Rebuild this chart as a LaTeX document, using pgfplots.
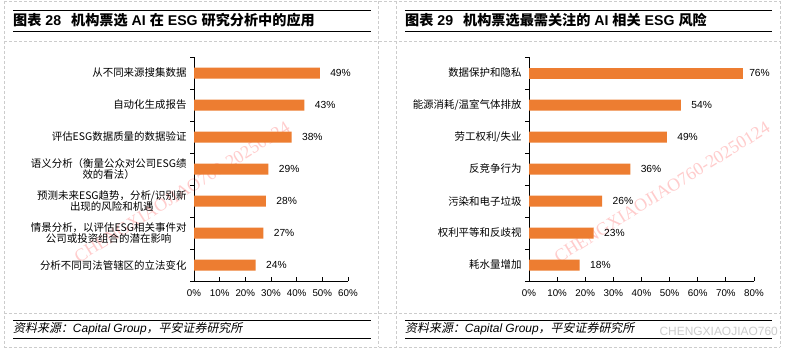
\documentclass[border=0pt]{standalone}
\usepackage{pgfplots}
\pgfplotsset{compat=1.18}
\usepackage{fontspec}
\setmainfont{Liberation Sans}
\newfontfamily\cjk{Noto Sans CJK SC}
\newfontfamily\cjkit[FakeSlant=0.2]{Noto Sans CJK SC}
\newfontfamily\wm{Liberation Serif}
\definecolor{barc}{HTML}{ED7D31}

\pgfplotsset{panel/.style={
  scale only axis, height=224bp,
  xbar, bar width=11bp, bar shift=0pt,
  xmin=0, ymin=-0.5, ymax=6.5,
  axis lines*=left,
  axis line style={line width=0.8bp, black},
  major tick length=4bp,
  every tick/.style={black, line width=0.8bp},
  ytick={-0.5,0.5,...,6.5}, yticklabels={,,,,,,,,},
  extra y ticks={0,1,...,6},
  extra y tick style={major tick length=0pt},
  yticklabel style={font=\cjk\fontsize{10.5}{11.5}\selectfont, align=center, xshift=-4bp, text=black},
  xticklabel={\pgfmathprintnumber{\tick}\%},
  xticklabel style={font=\fontsize{9.8}{11}\selectfont, yshift=-5bp},
  /pgf/number format/assume math mode=true,
  clip=false,
  nodes near coords={\pgfmathprintnumber{\pgfplotspointmeta}\%},
  point meta=x,
  every node near coord/.append style={font=\fontsize{10.3}{12}\selectfont, anchor=west, xshift=7bp, text=black},
  enlargelimits=false,
}}

\begin{document}
\begin{tikzpicture}
\useasboundingbox[fill=white] (0,0) rectangle (787bp,-349bp);
\begin{scope}[gray!40, line width=0.6bp, dash pattern=on 3bp off 2bp]
\draw (4bp,-1bp) -- (780bp,-1bp);
\draw (4bp,-41bp) -- (780bp,-41bp);
\draw (4bp,-313bp) -- (780bp,-313bp);
\draw (4bp,-347bp) -- (780bp,-347bp);
\draw (4bp,-1bp) -- (4bp,-347bp);
\draw (378bp,-1bp) -- (378bp,-347bp);
\draw (396bp,-1bp) -- (396bp,-347bp);
\draw (780bp,-1bp) -- (780bp,-347bp);
\end{scope}
\node[rotate=32, text=red!20, font=\wm\fontsize{18}{18}\selectfont] at (182bp,-192bp) {CHENGXIAOJIAO760-20250124};
\node[rotate=32, text=red!20, font=\wm\fontsize{18}{18}\selectfont] at (662bp,-192bp) {CHENGXIAOJIAO760-20250124};

% rules
\foreach \yy in {10,31,320,338} {
  \draw[line width=0.9bp] (13bp,-\yy bp) -- (371bp,-\yy bp);
  \draw[line width=0.9bp] (405bp,-\yy bp) -- (772bp,-\yy bp);
}
\node[anchor=west, inner sep=0pt, font=\fontsize{14.2}{16}\selectfont] at (13bp,-20.5bp)
 {{\cjk\bfseries 图表} {\bfseries 28}\hspace{10bp}{\cjk\bfseries 机构票选} {\bfseries AI} {\cjk\bfseries 在} {\bfseries ESG} {\cjk\bfseries 研究分析中的应用}};
\node[anchor=west, inner sep=0pt, font=\fontsize{14.2}{16}\selectfont] at (405bp,-20.5bp)
 {{\cjk\bfseries 图表} {\bfseries 29}\hspace{10bp}{\cjk\bfseries 机构票选最需关注的} {\bfseries AI} {\cjk\bfseries 相关} {\bfseries ESG} {\cjk\bfseries 风险}};
\node[anchor=west, inner sep=0pt, font=\fontsize{12}{14}\selectfont] at (13bp,-329bp)
 {{\cjkit 资料来源：}{\itshape Capital Group}{\cjkit ，平安证券研究所}};
\node[anchor=west, inner sep=0pt, font=\fontsize{12}{14}\selectfont] at (405bp,-329bp)
 {{\cjkit 资料来源：}{\itshape Capital Group}{\cjkit ，平安证券研究所}};
\node[anchor=east, inner sep=0pt, text=gray!40, font=\fontsize{12}{14}\selectfont] at (778bp,-331bp) {CHENGXIAOJIAO760};

\begin{axis}[panel, at={(194bp,-281bp)}, anchor=south west, width=154bp,
  xmax=60, xtick={0,10,...,60},
  extra y tick labels={
    {分析不同司法管辖区的立法变化},
    {情景分析，以评估ESG相关事件对\\公司或投资组合的潜在影响},
    {预测未来ESG趋势，分析/识别新\\出现的风险和机遇},
    {语义分析（衡量公众对公司ESG绩\\效的看法）},
    {评估ESG数据质量的数据验证},
    {自动化生成报告},
    {从不同来源搜集数据}}]
\addplot[fill=barc, draw=none] coordinates {(49,6) (43,5) (38,4) (29,3) (28,2) (27,1) (24,0)};
\end{axis}

\begin{axis}[panel, at={(529bp,-281bp)}, anchor=south west, width=225bp,
  xmax=80, xtick={0,10,...,80},
  extra y tick labels={
    {耗水量增加},
    {权利平等和反歧视},
    {污染和电子垃圾},
    {反竞争行为},
    {劳工权利/失业},
    {能源消耗/温室气体排放},
    {数据保护和隐私}}]
\addplot[fill=barc, draw=none] coordinates {(54,5) (49,4) (36,3) (26,2) (23,1) (18,0)};
\addplot[fill=barc, draw=none, every node near coord/.append style={xshift=-4bp}] coordinates {(76,6)};
\end{axis}
\end{tikzpicture}
\end{document}
